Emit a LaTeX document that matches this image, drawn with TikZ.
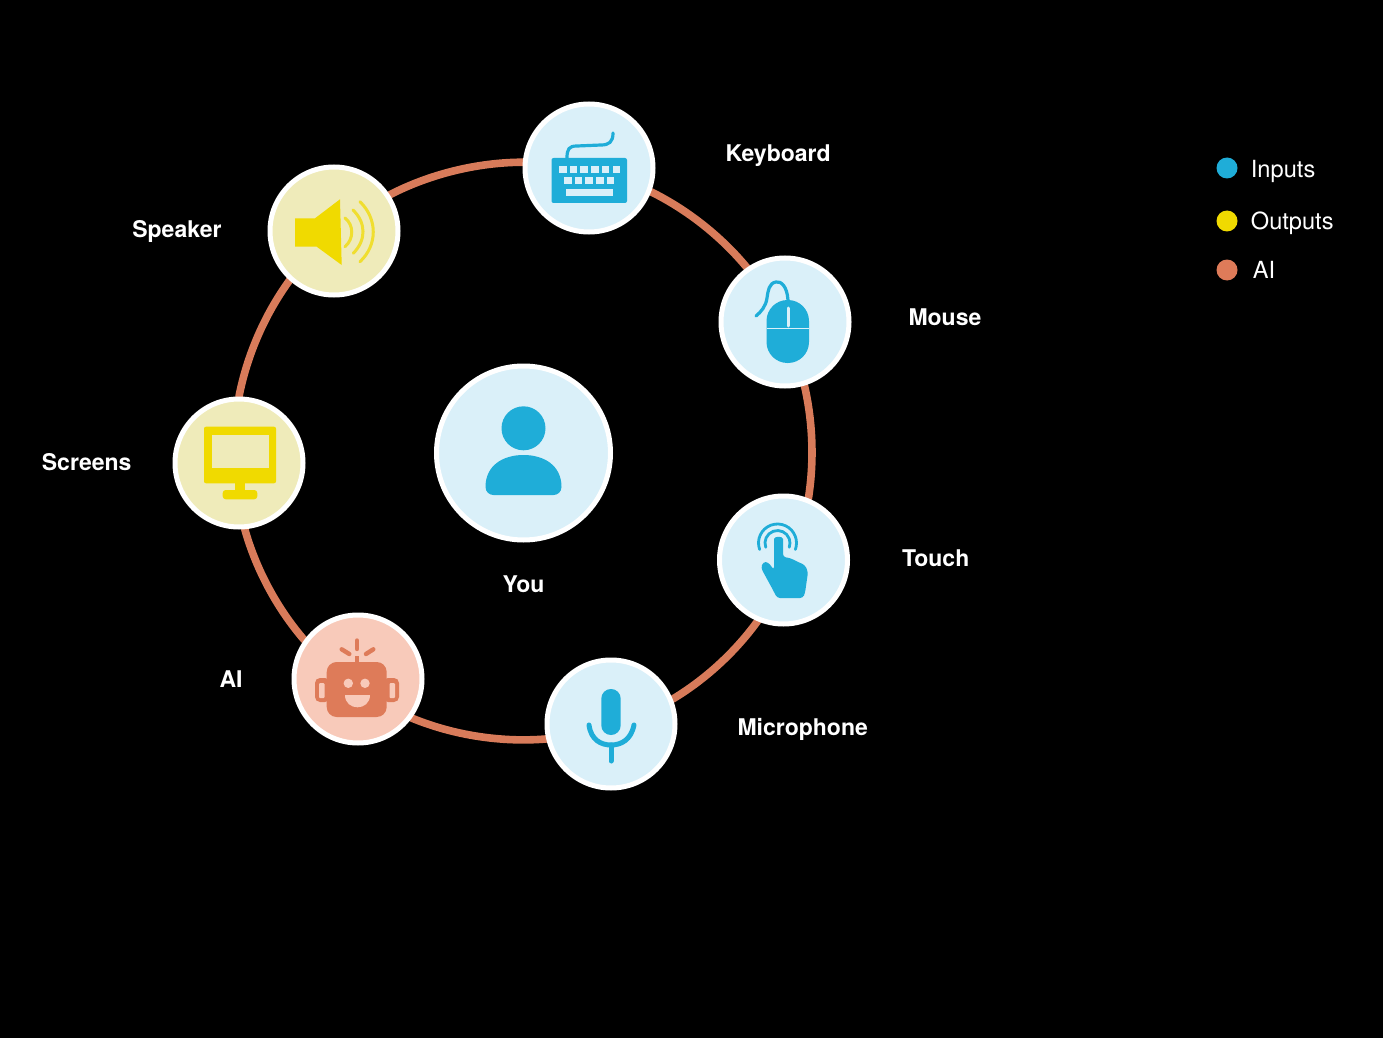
\documentclass[tikz,border=0pt]{standalone}
\usepackage{fontspec}
\setmainfont{TeX Gyre Heros}
\usetikzlibrary{arrows.meta,backgrounds,positioning}
\definecolor{InBlue}{HTML}{1FADD8}
\definecolor{InPale}{HTML}{DAF0F9}
\definecolor{OutYellow}{HTML}{F0DA00}
\definecolor{OutPale}{HTML}{EFEBBA}
\definecolor{AiCoral}{HTML}{DE7B59}
\definecolor{AiPale}{HTML}{F8CABA}
\definecolor{RingCoral}{HTML}{D87B5A}

\begin{document}
\begin{tikzpicture}[
        x=0.5pt, y=-0.5pt,
        disc/.style={
                circle,
                draw=white,
                line width=2.5pt,
                inner sep=0pt,
                minimum size=64pt
            },
        inputdisc/.style={disc, fill=InPale},
        outputdisc/.style={disc, fill=OutPale},
        aidisc/.style={disc, fill=AiPale},
        ring/.style={draw=RingCoral, line width=3.8pt, line cap=round},
        lbl/.style={
                inner sep=0pt,
                outer sep=0pt,
                text=white,
                font=\fontsize{11.5}{13}\selectfont\bfseries
            },
        keylbl/.style={
                inner sep=0pt,
                outer sep=0pt,
                text=white,
                font=\fontsize{11.8}{13}\selectfont
            },
        keydot/.style={circle, inner sep=0pt, minimum size=10.5pt},
        cord/.style={line width=1.6pt, line cap=round, fill=none},
    ]

    % Discs
    \node[inputdisc, minimum size=87pt] (you) at (523.5,453) {};
    \node[inputdisc] (kbd) at (589,168) {};
    \node[inputdisc] (mouse) at (785,322) {};
    \node[inputdisc] (touch) at (783.5,560) {};
    \node[inputdisc] (mic) at (611,724) {};
    \node[aidisc] (robot) at (358,679) {};
    \node[outputdisc] (screens) at (239,463) {};
    \node[outputdisc] (speaker) at (334,231) {};

    % Labels
    \node[lbl, right=35pt of kbd, yshift=6pt] (kbdlbl) {Keyboard};
    \node[lbl, right=28.5pt of mouse, yshift=2.5pt] (mouselbl) {Mouse};
    \node[lbl, right=26pt of touch, yshift=1pt] (touchlbl) {Touch};
    \node[lbl, right=30pt of mic, yshift=-2.5pt] (miclbl) {Microphone};
    \node[lbl, left=24.5pt of robot] (robotlbl) {AI};
    \node[lbl, left=20.5pt of screens, yshift=0.5pt] (screenslbl) {Screens};
    \node[lbl, left=23pt of speaker] (speakerlbl) {Speaker};
    \node[lbl, below=16.5pt of you] (youlbl) {You};

    % Legend
    \node[keydot, fill=InBlue] (inputdot) at (1227,168) {};
    \node[keydot, fill=OutYellow] (outputdot) at (1227,221) {};
    \node[keydot, fill=AiCoral] (aidot) at (1227,270) {};
    \node[keylbl, right=6.5pt of inputdot, yshift=-1.5pt] (inputlbl) {Inputs};
    \node[keylbl, right=6.5pt of outputdot, yshift=-1pt] (outputlbl) {Outputs};
    \node[keylbl, right=7.5pt of aidot] (ailbl) {AI};

    % Ring pieces behind the discs
    \begin{scope}[on background layer]
        \path[use as bounding box, fill=black] (0,0) rectangle (1383,1038);
        \foreach \src/\dst/\bnd in {
                kbd.-21/mouse.125/12, mouse.-73/touch.68/11, touch.-113/mic.22/11.5,
                mic.193/robot.-36/13.5, robot.144/screens.-85/12.5,
                screens.90/speaker.228/12.5, speaker.33/kbd.175/13.5}
            \draw[ring] (\src) to[bend left=\bnd, looseness=0.85] (\dst);
    \end{scope}

    % Person
    \begin{scope}[shift={(you.center)}]
        \fill[InBlue] (0,-24.7) circle[radius=22];
        \fill[InBlue] (-38,34) .. controls (-38,12) and (-20,2) .. (0,2)
        .. controls (20,2) and (38,12) .. (38,34)
        .. controls (38,39) and (34,42) .. (30,42) -- (-30,42)
        .. controls (-34,42) and (-38,39) .. (-38,34) -- cycle;
    \end{scope}

    % Keyboard
    \begin{scope}[shift={(kbd.center)}]
        \draw[cord, draw=InBlue] (-22,-10) .. controls (-22,-19) and (-20,-22) .. (-12,-22)
        -- (12,-23) .. controls (20,-23) and (24,-26) .. (24,-35);
        \fill[InBlue, rounded corners=1pt] (-37.5,-10) rectangle (38,35);
        \foreach \i in {0,...,5}
        \fill[InPale] ({-30+10.7*\i},-1.5) rectangle +(7.5,7);
        \foreach \i in {0,...,4}
        \fill[InPale] ({-25+10.7*\i},8.7) rectangle +(7.5,7.3);
        \fill[InPale] (-23,21.3) rectangle (23.7,28);
    \end{scope}

    % Mouse
    \begin{scope}[shift={(mouse.center)}]
        \draw[cord, draw=InBlue] (3,-22) .. controls (2,-36) and (-4,-41) .. (-9,-40)
        .. controls (-16,-39) and (-17,-31) .. (-18,-24) .. controls (-19,-16) and (-24,-10) .. (-29,-6);
        \fill[InBlue, rounded corners=10.5pt] (-18.5,-22) rectangle (24,41);
        \draw[InPale, line width=0.5pt] (-18.5,6) -- (24,6);
        \draw[InPale, line width=1.5pt, line cap=round] (3,-14) -- (3,4);
    \end{scope}

    % Hand
    \begin{scope}[shift={(touch.center)}]
        \draw[cord, draw=InBlue, line width=1.4pt] (-23.85,-10.5) arc[start angle=160, end angle=380, radius=19];
        \draw[cord, draw=InBlue, line width=1.4pt] (-17.75,-12.7) arc[start angle=160, end angle=380, radius=12.5];
        \fill[InBlue, rounded corners=1.5pt] (-6.5,38) -- (-10.5,30) -- (-22.5,8) -- (-20.5,2) -- (-15.5,2)
        -- (-9.5,10) -- (-9.5,-18) .. controls (-9.5,-24) and (-0.5,-24) .. (-0.5,-18) -- (-0.5,-3)
        -- (6.5,-2) -- (14.5,2) -- (21.5,5) -- (24.5,12) -- (21.5,33) -- (19.5,38) -- cycle;
    \end{scope}

    % Microphone
    \begin{scope}[shift={(mic.center)}]
        \fill[InBlue, rounded corners=4.8pt] (-9.7,-35) rectangle (9.7,11);
        \draw[cord, draw=InBlue, line width=2.5pt] (-22,1) .. controls (-20,16) and (-10,21) .. (0,21)
        .. controls (10,21) and (20,16) .. (23,1);
        \draw[cord, draw=InBlue, line width=2.5pt] (0,21) -- (0,37);
    \end{scope}

    % Robot
    \begin{scope}[shift={(robot.center)}]
        \fill[AiCoral, rounded corners=2.5pt] (-43,-1) rectangle (-28,23);
        \fill[AiCoral, rounded corners=2.5pt] (25,-1) rectangle (41,23);
        \fill[AiPale, rounded corners=0.5pt] (-39,4) rectangle (-33.5,19);
        \fill[AiPale, rounded corners=0.5pt] (31.5,4) rectangle (37,19);
        \fill[AiCoral, rounded corners=5pt] (-31.3,-17) rectangle (28.7,38);
        \fill[AiCoral] (-3,-23) rectangle (1.3,-16);
        \draw[cord, draw=AiCoral, line width=2.2pt] (-1,-38.5) -- (-1,-30);
        \draw[cord, draw=AiCoral, line width=2.2pt] (-16.3,-29.7) -- (-8.7,-25);
        \draw[cord, draw=AiCoral, line width=2.2pt] (15.3,-29.7) -- (8,-25);
        \fill[AiPale] (-9.7,4.3) circle[radius=4.7];
        \fill[AiPale] (7,4.3) circle[radius=4.7];
        \fill[AiPale] (-13,16) -- (12,16) .. controls (12,24) and (6,28.3) .. (-0.5,28.3)
        .. controls (-7,28.3) and (-13,24) .. (-13,16) -- cycle;
    \end{scope}

    % Monitor
    \begin{scope}[shift={(screens.center)}]
        \fill[OutYellow, rounded corners=1pt] (-35,-36.3) rectangle (37,20.3);
        \fill[OutPale] (-27.3,-28) rectangle (30.3,5.3);
        \fill[OutYellow] (-4,20) rectangle (6,28);
        \fill[OutYellow, rounded corners=1.5pt] (-16.3,27) rectangle (18.3,36.3);
    \end{scope}

    % Loudspeaker
    \begin{scope}[shift={(speaker.center)}]
        \fill[OutYellow] (-39,-12.7) -- (-19,-12.7) -- (6,-31.7) -- (7.7,34) -- (-17.3,15.7) -- (-39,15.7) -- cycle;
        \draw[cord, draw=OutYellow!75!OutPale, line width=1.5pt] (11,-13) .. controls (20,-6) and (20,8) .. (11,15.7);
        \draw[cord, draw=OutYellow!75!OutPale, line width=1.5pt] (19,-21) .. controls (32.3,-8) and (32.3,9) .. (19.3,22.3);
        \draw[cord, draw=OutYellow!75!OutPale, line width=1.5pt] (26,-29.3) .. controls (43.7,-12) and (43.7,14) .. (26,30.7);
    \end{scope}

\end{tikzpicture}
\end{document}
